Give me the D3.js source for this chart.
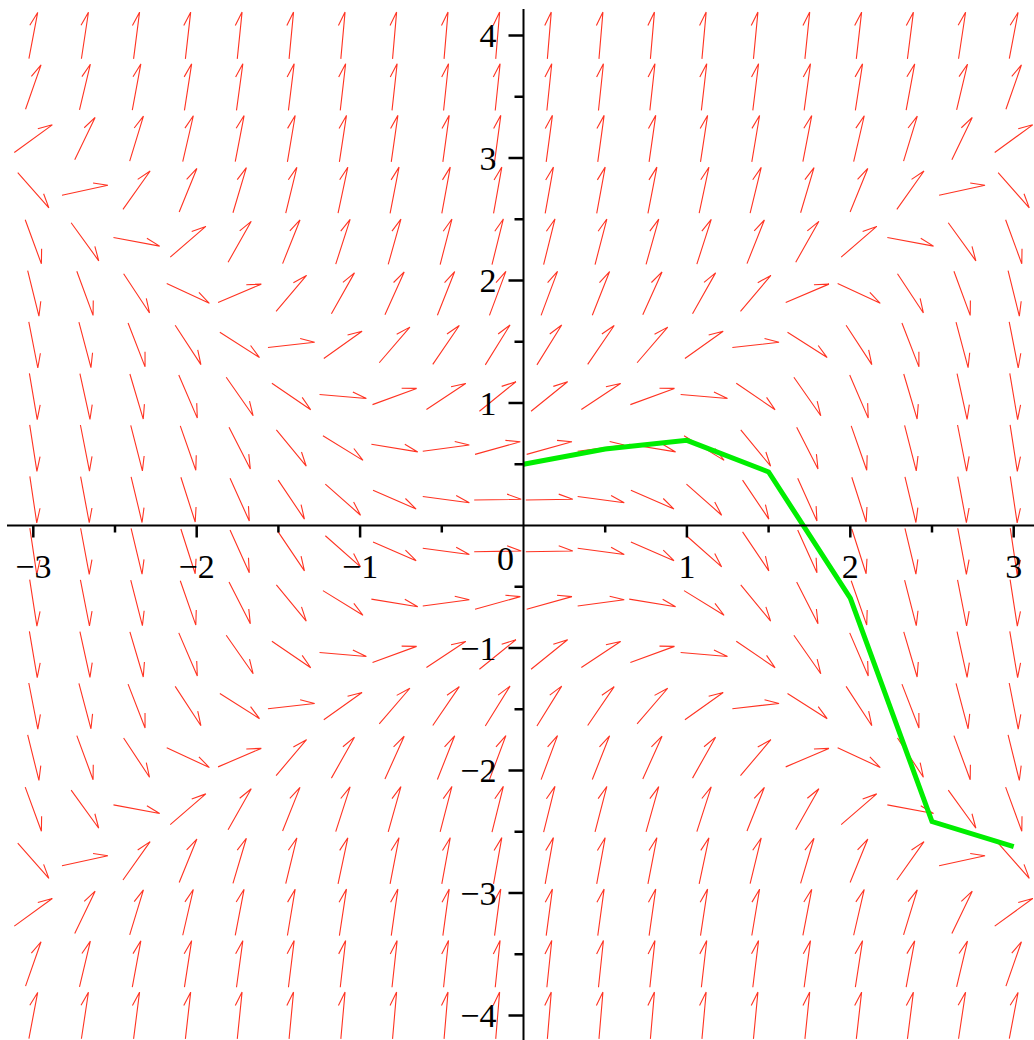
<!DOCTYPE html>
<html>
<head>
<meta charset="utf-8">
<script src="https://cdn.jsdelivr.net/npm/d3@7"></script>
<style>
  body { margin: 0; background: #fff; }
  svg { display: block; }
</style>
</head>
<body>
<div id="chart"></div>
<script>
// grid of the direction field (columns in x, rows in y from top to bottom)
var xGrid = [-3, -2.684, -2.368, -2.053, -1.737, -1.421, -1.105, -0.789, -0.474, -0.158,
             0.158, 0.474, 0.789, 1.105, 1.421, 1.737, 2.053, 2.368, 2.684, 3];
var yGrid = [4, 3.579, 3.158, 2.737, 2.316, 1.895, 1.474, 1.053, 0.632, 0.211,
             -0.211, -0.632, -1.053, -1.474, -1.895, -2.316, -2.737, -3.158, -3.579, -4];

// slope dy/dx at each grid point, one row per yGrid value
var slopes = [
  [7.00, 8.80, 10.39, 11.79, 12.98, 13.98, 14.78, 15.38, 15.78, 15.98, 15.98, 15.78, 15.38, 14.78, 13.98, 12.98, 11.79, 10.39, 8.80, 7.00],
  [3.81, 5.60, 7.20, 8.60, 9.79, 10.79, 11.59, 12.19, 12.59, 12.78, 12.78, 12.59, 12.19, 11.59, 10.79, 9.79, 8.60, 7.20, 5.60, 3.81],
  [0.97, 2.77, 4.36, 5.76, 6.96, 7.95, 8.75, 9.35, 9.75, 9.95, 9.95, 9.75, 9.35, 8.75, 7.95, 6.96, 5.76, 4.36, 2.77, 0.97],
  [-1.51, 0.29, 1.88, 3.28, 4.47, 5.47, 6.27, 6.87, 7.27, 7.47, 7.47, 7.27, 6.87, 6.27, 5.47, 4.47, 3.28, 1.88, 0.29, -1.51],
  [-3.64, -1.84, -0.25, 1.15, 2.35, 3.34, 4.14, 4.74, 5.14, 5.34, 5.34, 5.14, 4.74, 4.14, 3.34, 2.35, 1.15, -0.25, -1.84, -3.64],
  [-5.41, -3.62, -2.02, -0.62, 0.57, 1.57, 2.37, 2.97, 3.37, 3.57, 3.57, 3.37, 2.97, 2.37, 1.57, 0.57, -0.62, -2.02, -3.62, -5.41],
  [-6.83, -5.03, -3.44, -2.04, -0.85, 0.15, 0.95, 1.55, 1.95, 2.15, 2.15, 1.95, 1.55, 0.95, 0.15, -0.85, -2.04, -3.44, -5.03, -6.83],
  [-7.89, -6.10, -4.50, -3.11, -1.91, -0.91, -0.11, 0.49, 0.88, 1.08, 1.08, 0.88, 0.49, -0.11, -0.91, -1.91, -3.11, -4.50, -6.10, -7.89],
  [-8.60, -6.81, -5.21, -3.81, -2.62, -1.62, -0.82, -0.22, 0.18, 0.37, 0.37, 0.18, -0.22, -0.82, -1.62, -2.62, -3.81, -5.21, -6.81, -8.60],
  [-8.96, -7.16, -5.57, -4.17, -2.97, -1.98, -1.18, -0.58, -0.18, 0.02, 0.02, -0.18, -0.58, -1.18, -1.98, -2.97, -4.17, -5.57, -7.16, -8.96],
  [-8.96, -7.16, -5.57, -4.17, -2.97, -1.98, -1.18, -0.58, -0.18, 0.02, 0.02, -0.18, -0.58, -1.18, -1.98, -2.97, -4.17, -5.57, -7.16, -8.96],
  [-8.60, -6.81, -5.21, -3.81, -2.62, -1.62, -0.82, -0.22, 0.18, 0.37, 0.37, 0.18, -0.22, -0.82, -1.62, -2.62, -3.81, -5.21, -6.81, -8.60],
  [-7.89, -6.10, -4.50, -3.11, -1.91, -0.91, -0.11, 0.49, 0.88, 1.08, 1.08, 0.88, 0.49, -0.11, -0.91, -1.91, -3.11, -4.50, -6.10, -7.89],
  [-6.83, -5.03, -3.44, -2.04, -0.85, 0.15, 0.95, 1.55, 1.95, 2.15, 2.15, 1.95, 1.55, 0.95, 0.15, -0.85, -2.04, -3.44, -5.03, -6.83],
  [-5.41, -3.62, -2.02, -0.62, 0.57, 1.57, 2.37, 2.97, 3.37, 3.57, 3.57, 3.37, 2.97, 2.37, 1.57, 0.57, -0.62, -2.02, -3.62, -5.41],
  [-3.64, -1.84, -0.25, 1.15, 2.35, 3.34, 4.14, 4.74, 5.14, 5.34, 5.34, 5.14, 4.74, 4.14, 3.34, 2.35, 1.15, -0.25, -1.84, -3.64],
  [-1.51, 0.29, 1.88, 3.28, 4.47, 5.47, 6.27, 6.87, 7.27, 7.47, 7.47, 7.27, 6.87, 6.27, 5.47, 4.47, 3.28, 1.88, 0.29, -1.51],
  [0.97, 2.77, 4.36, 5.76, 6.96, 7.95, 8.75, 9.35, 9.75, 9.95, 9.95, 9.75, 9.35, 8.75, 7.95, 6.96, 5.76, 4.36, 2.77, 0.97],
  [3.81, 5.60, 7.20, 8.60, 9.79, 10.79, 11.59, 12.19, 12.59, 12.78, 12.78, 12.59, 12.19, 11.59, 10.79, 9.79, 8.60, 7.20, 5.60, 3.81],
  [7.00, 8.80, 10.39, 11.79, 12.98, 13.98, 14.78, 15.38, 15.78, 15.98, 15.98, 15.78, 15.38, 14.78, 13.98, 12.98, 11.79, 10.39, 8.80, 7.00]
];

// the green polyline (Euler steps)
var eulerX = [0, 0.5, 1, 1.5, 2, 2.5, 3];
var eulerY = [0.5, 0.625, 0.695, 0.437, -0.593, -2.417, -2.621];

// tick labels
var xLabels = [-3, -2, -1, 1, 2, 3];
var yLabels = [4, 3, 2, 1, -1, -2, -3, -4];
var xTicks = [-3, -2.5, -2, -1.5, -1, -0.5, 0.5, 1, 1.5, 2, 2.5, 3];
var yTicks = [4, 3.5, 3, 2.5, 2, 1.5, 1, 0.5, -0.5, -1, -1.5, -2, -2.5, -3, -3.5, -4];

const width = 1034, height = 1040;

const svg = d3.select("#chart").append("svg")
    .attr("width", width)
    .attr("height", height);

var x = d3.scaleLinear().domain([-3, 3]).range([33.3, 1013.7]);
var y = d3.scaleLinear().domain([-4, 4]).range([1015.5, 35.5]);

var arrowLen = 47, barbLen = 15, barbAng = 21 * Math.PI / 180;
var red = "#ff3322";

// build arrows
var arrows = [];
yGrid.forEach(function(yv, j){
    xGrid.forEach(function(xv, i){
        var s = slopes[j][i];
        var dx = x(1) - x(0), dy = y(s) - y(0);
        var n = Math.sqrt(dx*dx + dy*dy);
        dx /= n; dy /= n;
        var cx = x(xv), cy = y(yv);
        var tx = cx + dx*arrowLen/2, ty = cy + dy*arrowLen/2;
        var lx = dy, ly = -dx;   // left side of travel
        arrows.push({
            x1: cx - dx*arrowLen/2, y1: cy - dy*arrowLen/2,
            x2: tx, y2: ty,
            bx: tx + barbLen*(-Math.cos(barbAng)*dx + Math.sin(barbAng)*lx),
            by: ty + barbLen*(-Math.cos(barbAng)*dy + Math.sin(barbAng)*ly)
        });
    });
});

svg.append("g")
    .selectAll("path")
    .data(arrows)
    .enter()
    .append("path")
    .attr("d", function(d){ return "M" + d.x1 + "," + d.y1 + "L" + d.x2 + "," + d.y2 + "L" + d.bx + "," + d.by; })
    .attr("fill", "none")
    .attr("stroke", red)
    .attr("stroke-width", 1.1)
    .attr("stroke-linejoin", "miter");

// green line
var line = d3.line()
    .x(function(d, i){ return x(eulerX[i]); })
    .y(function(d){ return y(d); });

svg.append("path")
    .datum(eulerY)
    .attr("d", line)
    .attr("fill", "none")
    .attr("stroke", "#00ee00")
    .attr("stroke-width", 5)
    .attr("stroke-linejoin", "miter");

// axes
var axes = svg.append("g").attr("stroke", "black");
axes.append("line")
    .attr("x1", 7).attr("x2", width)
    .attr("y1", y(0)).attr("y2", y(0))
    .attr("stroke-width", 2);
axes.append("line")
    .attr("x1", x(0)).attr("x2", x(0))
    .attr("y1", 9).attr("y2", height)
    .attr("stroke-width", 2);

axes.selectAll(".xt")
    .data(xTicks)
    .enter()
    .append("line")
    .attr("x1", function(d){ return x(d); })
    .attr("x2", function(d){ return x(d); })
    .attr("y1", y(0))
    .attr("y2", function(d){ return y(0) + (d % 1 === 0 ? 12 : 7); })
    .attr("stroke-width", 2.5);

axes.selectAll(".yt")
    .data(yTicks)
    .enter()
    .append("line")
    .attr("y1", function(d){ return y(d); })
    .attr("y2", function(d){ return y(d); })
    .attr("x1", x(0))
    .attr("x2", function(d){ return x(0) - (d % 1 === 0 ? 15 : 9); })
    .attr("stroke-width", 2.5);

function fmt(d){ return d < 0 ? "\u2212" + Math.abs(d) : String(d); }

var labels = svg.append("g")
    .style("font-family", "'Liberation Serif', 'Times New Roman', serif")
    .style("font-size", "34px")
    .attr("fill", "black");

labels.selectAll(".xl")
    .data(xLabels)
    .enter()
    .append("text")
    .attr("x", function(d){ return x(d); })
    .attr("y", y(0) + 52)
    .attr("text-anchor", "middle")
    .text(fmt);

labels.selectAll(".yl")
    .data(yLabels)
    .enter()
    .append("text")
    .attr("x", x(0) - 27)
    .attr("y", function(d){ return y(d) + 11.5; })
    .attr("text-anchor", "end")
    .text(fmt);

labels.append("text")
    .attr("x", x(0) - 18)
    .attr("y", y(0) + 44)
    .attr("text-anchor", "middle")
    .text("0");
</script>
</body>
</html>
